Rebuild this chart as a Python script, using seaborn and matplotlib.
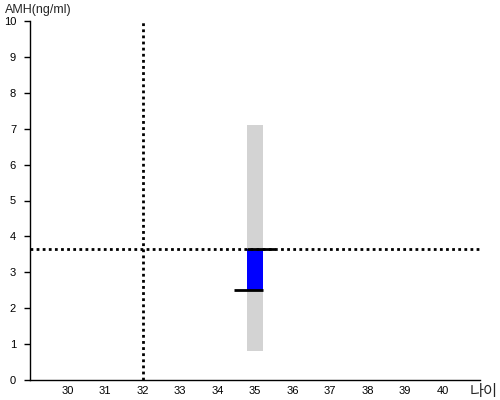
import matplotlib
matplotlib.use("Agg")
import matplotlib.pyplot as plt
import seaborn as sns
import pandas as pd

# Data
age = [35]
range_low = [0.82]
range_high = [7.10]
amh_low = [2.51]
amh_high = [3.66]
ref_age = 32
ref_amh = 3.66
x_ticks = list(range(30, 41))
y_ticks = list(range(0, 11))

sns.set_theme(style="white")
plt.rcParams['font.family'] = ['Liberation Sans', 'Noto Sans CJK KR', 'DejaVu Sans']

fig = plt.figure(figsize=(5, 4), dpi=100)
ax = fig.add_axes([0.06, 0.05, 0.90, 0.8975])

df_range = pd.DataFrame({"age": age, "h": [h - l for h, l in zip(range_high, range_low)], "b": range_low})
df_amh = pd.DataFrame({"age": age, "h": [h - l for h, l in zip(amh_high, amh_low)], "b": amh_low})

sns.barplot(data=df_range, x="age", y="h", bottom=df_range["b"], native_scale=True,
            width=0.43, color="#D3D3D3", saturation=1, ax=ax, linewidth=0, errorbar=None)
sns.barplot(data=df_amh, x="age", y="h", bottom=df_amh["b"], native_scale=True,
            width=0.43, color="#0000FF", saturation=1, ax=ax, linewidth=0, errorbar=None)

# marker lines
for a, hi, lo in zip(age, amh_high, amh_low):
    ax.hlines(hi, a - 0.215, a + 0.54, color="black", linewidth=2, zorder=4)
    ax.hlines(lo, a - 0.56, a + 0.215, color="black", linewidth=2, zorder=4)

ax.axvline(ref_age, color="black", linestyle=(0, (1, 1.2)), linewidth=2, zorder=3)
ax.axhline(ref_amh, color="black", linestyle=(0, (1, 1.2)), linewidth=2, zorder=3)

ax.set_xlim(29, 41)
ax.set_ylim(0, 10)
ax.set_xticks(x_ticks)
ax.set_yticks(y_ticks)
ax.set_xlabel("")
ax.set_ylabel("")
ax.tick_params(axis="x", length=0, labelsize=8, pad=4, colors="black")
ax.tick_params(axis="y", length=4, width=1, labelsize=8, pad=6, colors="black", left=True)
for s in ["top", "right"]:
    ax.spines[s].set_visible(False)
for s in ["left", "bottom"]:
    ax.spines[s].set_color("black")
    ax.spines[s].set_linewidth(1)

fig.text(0.01, 0.975, "AMH(ng/ml)", fontsize=9, va="center", ha="left")
fig.text(0.996, 0.02, "나이", fontsize=11, va="center", ha="right")

fig.savefig("out.png", dpi=100)
